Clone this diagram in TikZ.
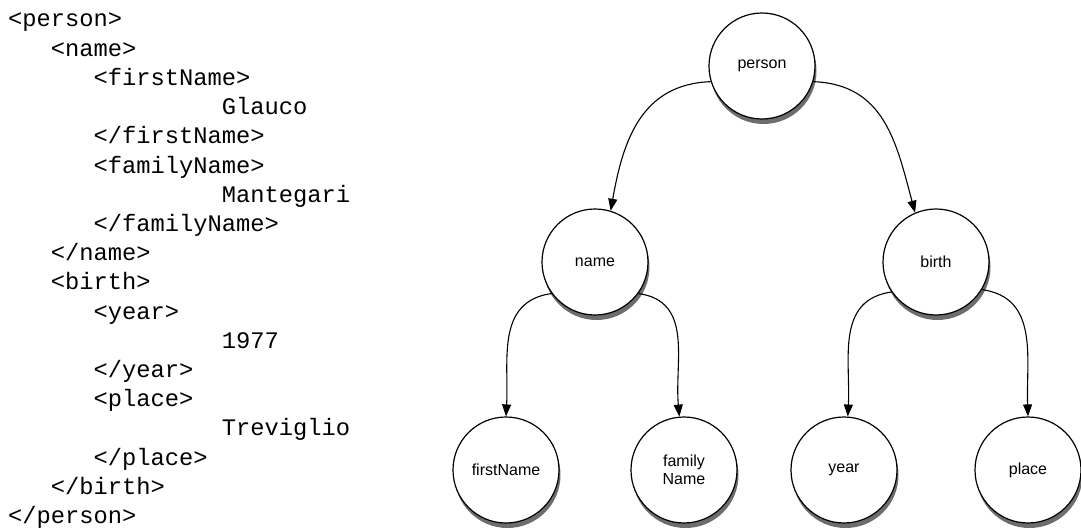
\documentclass[tikz,border=0pt]{standalone}
\usepackage{fontspec}
\setmainfont{Liberation Sans}
\setmonofont{Liberation Mono}
\usepackage{xcolor}
\definecolor{nodeShadow}{RGB}{60, 60, 60}
\usepackage{tikz}
\usetikzlibrary{arrows.meta,shadows}

\tikzset{
    xmlline/.style={anchor=base west, inner sep=0pt,
        font=\ttfamily\fontsize{23.75}{29}\selectfont},
    treenode/.style={circle, draw=black, line width=1.2pt, fill=white,
        minimum size=106pt, inner sep=0pt, align=center,
        font=\fontsize{16}{18}\selectfont,
        drop shadow={shadow xshift=1.5pt, shadow yshift=-5pt,
            fill=nodeShadow, opacity=0.75}},
    childarrow/.style={-{Triangle[length=12pt,width=9pt]}, line width=1.1pt}
}

\begin{document}
\begin{tikzpicture}[x=1pt, y=1pt]
    \useasboundingbox (0,0) rectangle (1081,-530);
    \foreach \ind/\txt [count=\i from 0] in {
        0/{<person>}, 3/{<name>}, 6/{<firstName>}, 15/{Glauco},
        6/{</firstName>}, 6/{<familyName>}, 15/{Mantegari},
        6/{</familyName>}, 3/{</name>}, 3/{<birth>}, 6/{<year>},
        15/{1977}, 6/{</year>}, 6/{<place>}, 15/{Treviglio},
        6/{</place>}, 3/{</birth>}, 0/{</person>}}
        \node[xmlline] (line\i) at ({8+14.25*\ind}, {-27-29.2*\i}) {\txt};

    \node[treenode] (person) at (762,-66) {person};
    \node[treenode] (name) at (595,-262) {name};
    \node[treenode] (birth) at (936,-262) {birth};
    \node[treenode] (firstName) at (506,-470) {firstName};
    \node[treenode] (familyName) at (684,-470) {family\\Name};
    \node[treenode] (year) at (844,-470) {year};
    \node[treenode] (place) at (1028,-470) {place};

    \draw[childarrow] (person.197) to[out=182, in=80, looseness=1.1] (name.73);
    \draw[childarrow] (person.-17) to[out=-2, in=105, looseness=1.1] (birth.113);
    \draw[childarrow] (name.216) to[out=188, in=87, looseness=1.1] (firstName.90);
    \draw[childarrow] (name.-36) to[out=-8, in=95, looseness=1.1] (familyName.95);
    \draw[childarrow] (birth.214) to[out=188, in=87, looseness=1.1] (year.86);
    \draw[childarrow] (birth.-31) to[out=-8, in=92, looseness=1.1] (place.90);
\end{tikzpicture}
\end{document}
